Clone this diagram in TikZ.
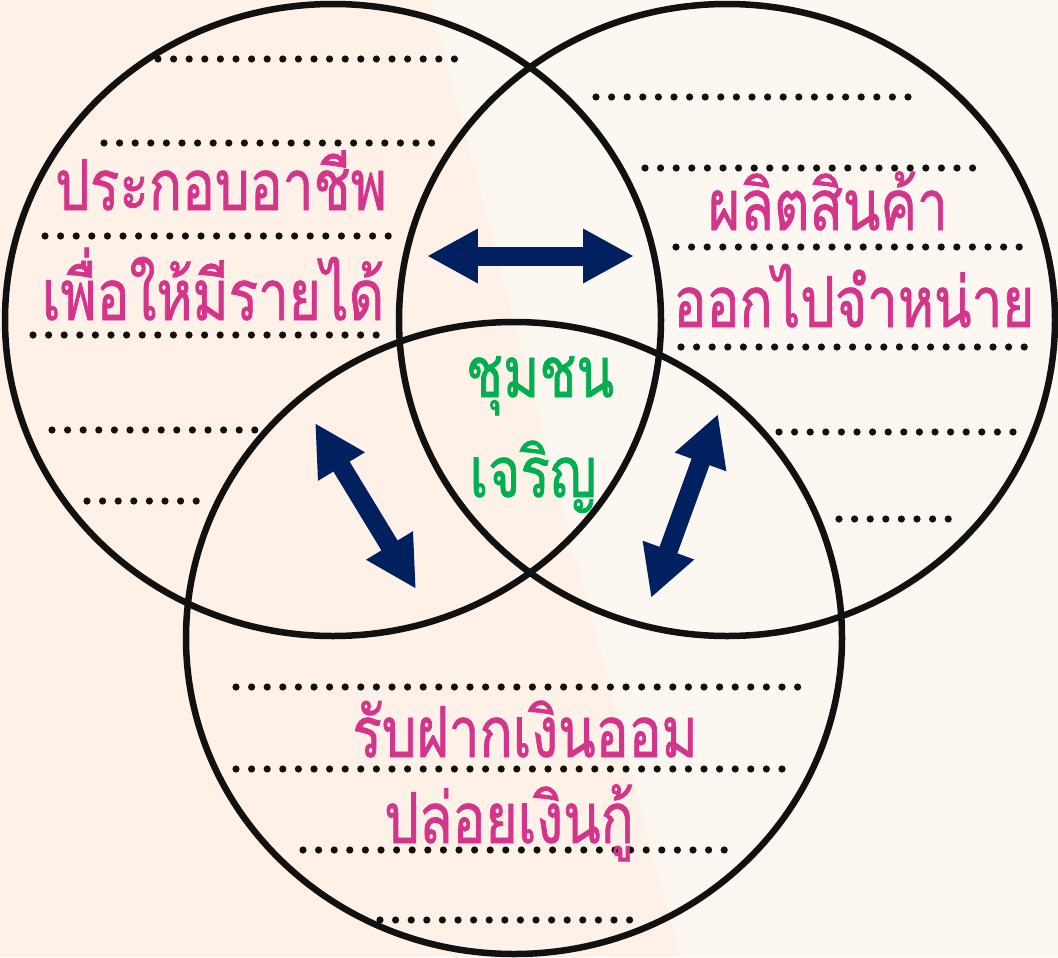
\documentclass[tikz,border=0pt]{standalone}
\usepackage{fontspec}
\newfontfamily\thaifont[Script=Thai, FakeStretch=0.78, FakeBold=1]{Loma}
\usetikzlibrary{arrows.meta}
\definecolor{peachbg}{RGB}{253,241,232}
\definecolor{creambg}{RGB}{252,247,241}
\definecolor{ringline}{RGB}{17,17,17}
\definecolor{pinktext}{RGB}{212,53,138}
\definecolor{greentext}{RGB}{0,176,80}
\definecolor{navyarrow}{RGB}{0,32,96}
% row of dots: start x, y, number of dots
\newcommand\dotrow[3]{\foreach \k in {1,...,#3} \fill[ringline] ({#1+(\k-1)*15.6},#2) circle (3.6);}
\tikzset{
  ring/.style={draw=ringline, line width=0.13cm},
  pinklabel/.style={font=\thaifont\fontsize{40}{48}\selectfont, text=pinktext, anchor=base, inner sep=0pt},
  greenlabel/.style={pinklabel, text=greentext},
  twoway/.style={draw=navyarrow, fill=navyarrow, line width=0.38cm,
    {Triangle[length=1.02cm,width=1.02cm]}-{Triangle[length=1.02cm,width=1.02cm]}}
}

\begin{document}
\begin{tikzpicture}[x=0.02cm, y=-0.02cm]
	%%%%% START %%%%%
	\useasboundingbox (0, 0) rectangle (1058, 957);
	\fill[peachbg] (0, 0) rectangle (1058, 957);
	\fill[creambg] (430, 0) -- (1058, 0) -- (1058, 957) -- (680, 957) -- cycle;
	
	% dotted lines, left circle
	\dotrow{158}{59}{20}
	\dotrow{104}{143}{22}
	\dotrow{45}{236}{23}
	\dotrow{33}{335}{23}
	\dotrow{52}{430}{14}
	\dotrow{87}{501}{8}
	
	% dotted lines, right circle
	\dotrow{596}{97}{21}
	\dotrow{645}{168}{22}
	\dotrow{676}{247}{23}
	\dotrow{681}{347}{23}
	\dotrow{779}{432}{16}
	\dotrow{839}{519}{8}
	
	% dotted lines, bottom circle
	\dotrow{236}{687}{37}
	\dotrow{236}{769}{36}
	\dotrow{303}{850}{28}
	\dotrow{380}{920}{17}
	
	\draw[ring] (333, 320) ellipse (328 and 316);
	\draw[ring] (727, 320) ellipse (328 and 316);
	\draw[ring] (514, 638) ellipse (328 and 316);
	
	\node[pinklabel] (job) at (221, 210) {ประกอบอาชีพ};
	\node[pinklabel] (income) at (213, 320) {เพื่อให้มีรายได้};
	\node[pinklabel] (goods) at (828, 230) {ผลิตสินค้า};
	\node[pinklabel] (sell) at (854, 327) {ออกไปจำหน่าย};
	\node[pinklabel] (deposit) at (525, 757) {รับฝากเงินออม};
	\node[pinklabel] (loan) at (509, 843) {ปล่อยเงินกู้};
	\node[greenlabel] (commu) at (540, 397) {ชุมชน};
	\node[greenlabel] (grow) at (533, 497) {เจริญ};
	
	\coordinate (topL) at (427, 256);
	\coordinate (topR) at (634, 256);
	\coordinate (leftA) at (315, 423);
	\coordinate (leftB) at (416, 589);
	\coordinate (rightA) at (718, 414);
	\coordinate (rightB) at (651, 598);
	\draw[twoway] (topL) -- (topR);
	\draw[twoway] (leftA) -- (leftB);
	\draw[twoway] (rightA) -- (rightB);
	%%%%% END %%%%%
\end{tikzpicture}
\end{document}
